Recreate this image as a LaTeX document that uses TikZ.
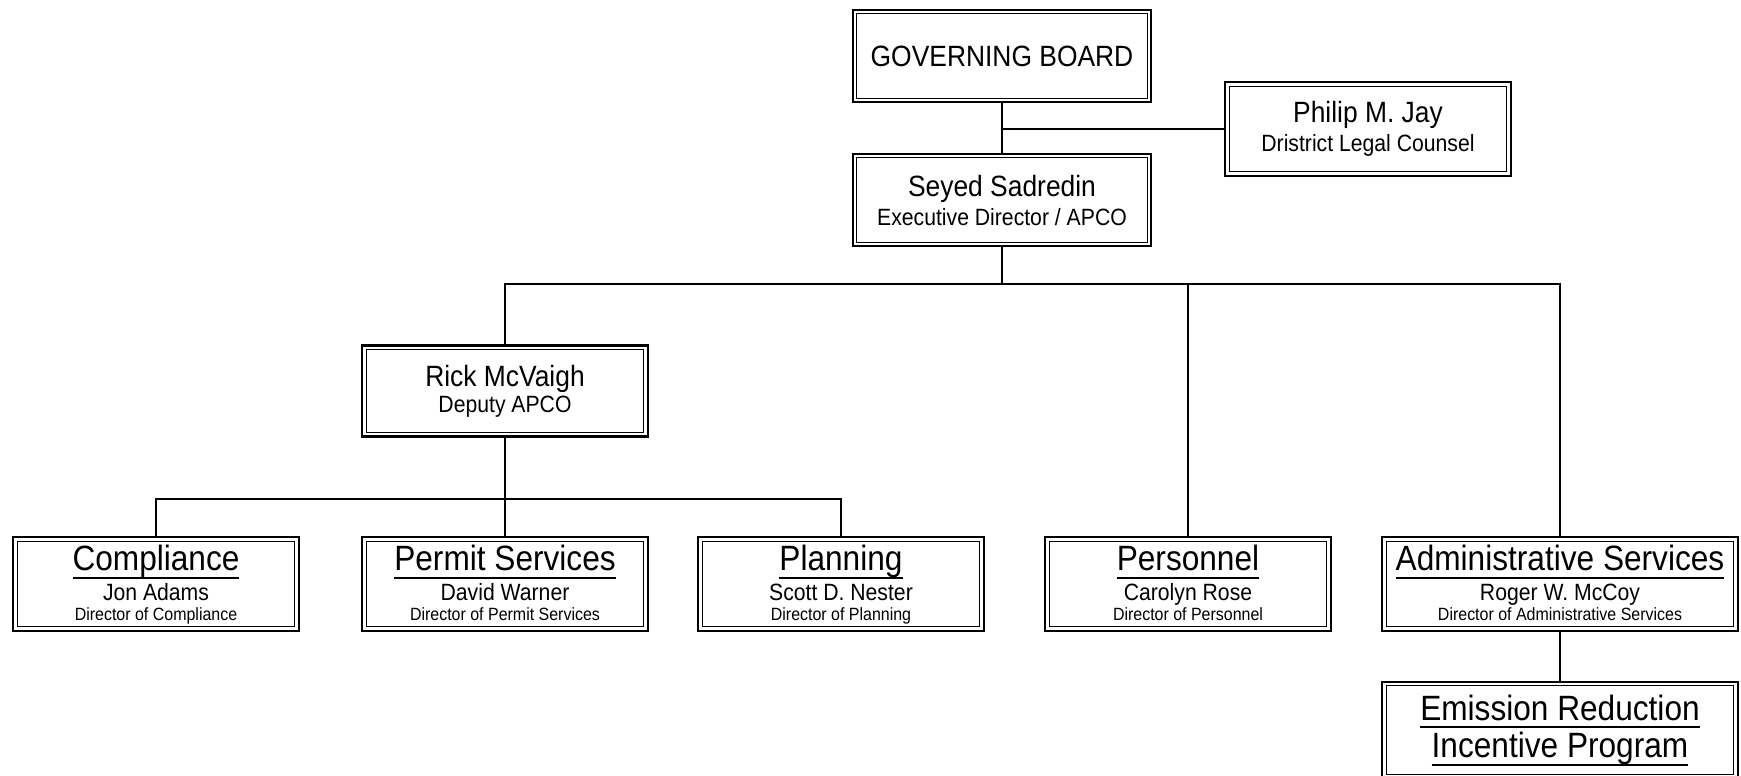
\documentclass[tikz,border=0pt]{standalone}
\usepackage{fontspec}
\setmainfont{Liberation Sans}[FakeStretch=0.9]
\setlength\lineskip{0pt}
\newcommand\undl[1]{\setbox0\hbox{#1}\rlap{\rule[-0.22em]{\wd0}{0.055em}}\box0}
\newcommand\dvhd[1]{{\fontsize{20}{22}\selectfont\rule[-5pt]{0pt}{23pt}\undl{#1}}}
\newcommand\nm[1]{{\fontsize{13.4}{16}\selectfont\rule[-3pt]{0pt}{15pt}#1}}
\newcommand\rle[1]{{\fontsize{10.1}{12}\selectfont\rule[-4.5pt]{0pt}{12.9pt}#1}}
\newcommand\topnm[1]{{\fontsize{16.7}{19}\selectfont #1}}
\usetikzlibrary{positioning}
\begin{document}
\begin{tikzpicture}[x=0.02cm,y=-0.02cm,
    box/.style={draw,line width=1.2pt,inner sep=0pt,align=center,
      minimum width=5.71cm,minimum height=1.87cm,font=\fontsize{10.1}{1pt}\selectfont},
    topbox/.style={box,font=\fontsize{13.4}{16.5}\selectfont},
    wide/.style={box,minimum width=7.11cm},
    link/.style={line width=.8pt}]
  \useasboundingbox (0,0) rectangle (1741,775);
  \path node[topbox,minimum width=5.96cm,minimum height=1.84cm,font=\fontsize{16.7}{20}\selectfont] (GB) at (1002,56) {GOVERNING BOARD}
    (1002,200) node[topbox,minimum width=5.96cm,minimum height=1.85cm] (SS) {\topnm{Seyed Sadredin}\\ Executive Director / APCO}
    (1368,129) node[topbox] (PJ) {\topnm{Philip M. Jay}\\ Dristrict Legal Counsel}
    (505,391) node[topbox,minimum height=1.82cm] (RM) {\topnm{Rick McVaigh}\\[-1.5pt] Deputy APCO};
  \path (156,584) node[box] (CO) {\dvhd{Compliance}\\ \nm{Jon Adams}\\ \rle{Director of Compliance}}
    (505,584) node[box] (PS) {\dvhd{Permit Services}\\ \nm{David Warner}\\ \rle{Director of Permit Services}}
    (841,584) node[box] (PL) {\dvhd{Planning}\\ \nm{Scott D. Nester}\\ \rle{Director of Planning}}
    (1188,584) node[box] (PE) {\dvhd{Personnel}\\ \nm{Carolyn Rose}\\ \rle{Director of Personnel}}
    (1560,584) node[wide] (AS) {\dvhd{Administrative Services}\\ \nm{Roger W. McCoy}\\ \rle{Director of Administrative Services}}
    (1560,681) node[wide,anchor=north,minimum height=1.92cm,font=\fontsize{20}{21.5}\selectfont] (ER) {\undl{Emission Reduction}\\ \undl{Incentive Program}};
  \foreach \n in {GB,SS,PJ,RM,CO,PS,PL,PE,AS,ER}
    \draw[line width=.6pt] ([shift={(2.8pt,2.8pt)}]\n.south west) rectangle ([shift={(-2.8pt,-2.8pt)}]\n.north east);
  \coordinate (T) at (0,284);
  \coordinate (D) at (0,499);
  \draw[link] (GB) -- (SS) (PJ.west) -- (PJ.west -| GB.south);
  \draw[link] (SS.south) -- (SS.south |- T) (RM.north) |- (AS.north |- T) -- (AS.north)
    (PE.north) -- (PE.north |- T);
  \draw[link] (RM.south) -- (RM.south |- D) (CO.north) |- (PL.north |- D) -- (PL.north)
    (PS.north) -- (PS.north |- D);
  \draw[link] (AS) -- (ER);
\end{tikzpicture}
\end{document}
